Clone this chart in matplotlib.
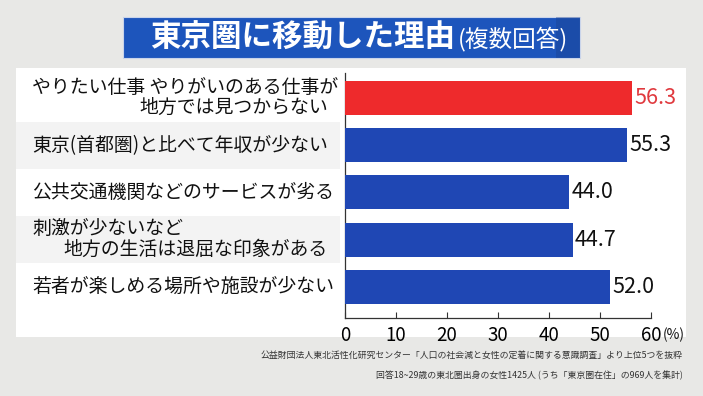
import matplotlib
matplotlib.use("Agg")
import matplotlib.pyplot as plt
import matplotlib.transforms as mtransforms
from matplotlib.patches import Rectangle

plt.rcParams['font.family'] = ['Noto Sans CJK JP', 'DejaVu Sans']

# data
labels = [
    "やりたい仕事 やりがいのある仕事が\n地方では見つからない",
    "東京(首都圏)と比べて年収が少ない",
    "公共交通機関などのサービスが劣る",
    "刺激が少ないなど\n地方の生活は退屈な印象がある",
    "若者が楽しめる場所や施設が少ない",
]
values = [56.3, 55.3, 44.0, 44.7, 52.0]
bar_colors = ["#EE2A2C", "#1F47B4", "#1F47B4", "#1F47B4", "#1F47B4"]
value_colors = ["#E0393E", "#111111", "#111111", "#111111", "#111111"]
xticks = [0, 10, 20, 30, 40, 50, 60]

title_main = "東京圏に移動した理由"
title_sub = "(複数回答)"
footer = [
    "公益財団法人東北活性化研究センター「人口の社会減と女性の定着に関する意識調査」より上位5つを抜粋",
    "回答18~29歳の東北圏出身の女性1425人 (うち「東京圏在住」の969人を集計)",
]

W, H = 703, 396
fig = plt.figure(figsize=(W / 100, H / 100), dpi=100)
fig.patch.set_facecolor("#E8E8E6")

# white panel
fig.patches.append(Rectangle((16 / W, 1 - 337 / H), (686 - 16) / W, (337 - 68) / H,
                             transform=fig.transFigure, facecolor="white",
                             edgecolor="none", zorder=0))

# title banner
fig.patches.append(Rectangle((123 / W, 1 - 58 / H), (580 - 123) / W, 41 / H,
                             transform=fig.transFigure, facecolor="#1D55BC",
                             edgecolor="#C9D4EA", linewidth=0.8, zorder=1))
fig.patches.append(Rectangle((556 / W, 1 - 58 / H), (580 - 556) / W, 41 / H,
                             transform=fig.transFigure, facecolor="#1A3D86",
                             edgecolor="none", alpha=0.35, zorder=1))
t1 = fig.text(150 / W, 1 - 38 / H, title_main, color="white", fontsize=22,
              fontweight="bold", ha="left", va="center")
fig.canvas.draw()
bb = t1.get_window_extent()
fig.text(bb.x1 / W + 3 / W, 1 - 39 / H, title_sub, color="white", fontsize=17,
         ha="left", va="center")

ax = fig.add_axes([345 / W, 1 - 318 / H, 306 / W, (318 - 73) / H])
ax.set_zorder(2)
ax.patch.set_alpha(0)
y = list(range(len(values)))
ax.barh(y, values, height=0.72, color=bar_colors, zorder=3)
ax.set_xlim(0, 60)
ax.set_ylim(4.66, -0.53)
ax.set_yticks([])
ax.set_xticks(xticks)
ax.set_xticklabels([str(t) for t in xticks], fontsize=13.5)
ax.tick_params(axis="x", direction="in", length=4, width=0.8, color="#333333", pad=5)
for s in ["top", "right"]:
    ax.spines[s].set_visible(False)
ax.spines["left"].set_color("#333333")
ax.spines["bottom"].set_color("#333333")
ax.spines["left"].set_linewidth(0.9)
ax.spines["bottom"].set_linewidth(0.9)
ax.text(1.038, -0.068, "(%)", transform=ax.transAxes, fontsize=10,
        ha="left", va="center", color="#111111")

for i, v in enumerate(values):
    ax.text(v + 0.4, i, f"{v:.1f}", va="center", ha="left", fontsize=15.5,
            color=value_colors[i])

# category labels with striped rows
trans = mtransforms.blended_transform_factory(fig.transFigure, ax.transData)
for i, lab in enumerate(labels):
    if i % 2 == 1:
        fig.patches.append(Rectangle((16 / W, i - 0.5), (340 - 16) / W, 1.0,
                                     transform=trans, facecolor="#F3F3F3",
                                     edgecolor="none", zorder=0.5))
    lines = lab.split("\n")
    if len(lines) == 1:
        fig.text(32 / W, i, lines[0], transform=trans, fontsize=13.6,
                 ha="left", va="center", color="#111111", zorder=3)
    else:
        up = mtransforms.offset_copy(trans, fig=fig, y=7.5, units="points")
        dn = mtransforms.offset_copy(trans, fig=fig, y=-7.0, units="points")
        fig.text(32 / W, i, lines[0], transform=up, fontsize=13.6,
                 ha="left", va="center", color="#111111", zorder=3)
        fig.text(328 / W, i, lines[1], transform=dn, fontsize=13.6,
                 ha="right", va="center", color="#111111", zorder=3)

# source notes
fig.text(683 / W, 1 - 355 / H, footer[0], fontsize=6.4, ha="right",
         va="center", color="#333333")
fig.text(683 / W, 1 - 375 / H, footer[1], fontsize=6.4, ha="right",
         va="center", color="#333333")

fig.savefig("out.png", dpi=100)
